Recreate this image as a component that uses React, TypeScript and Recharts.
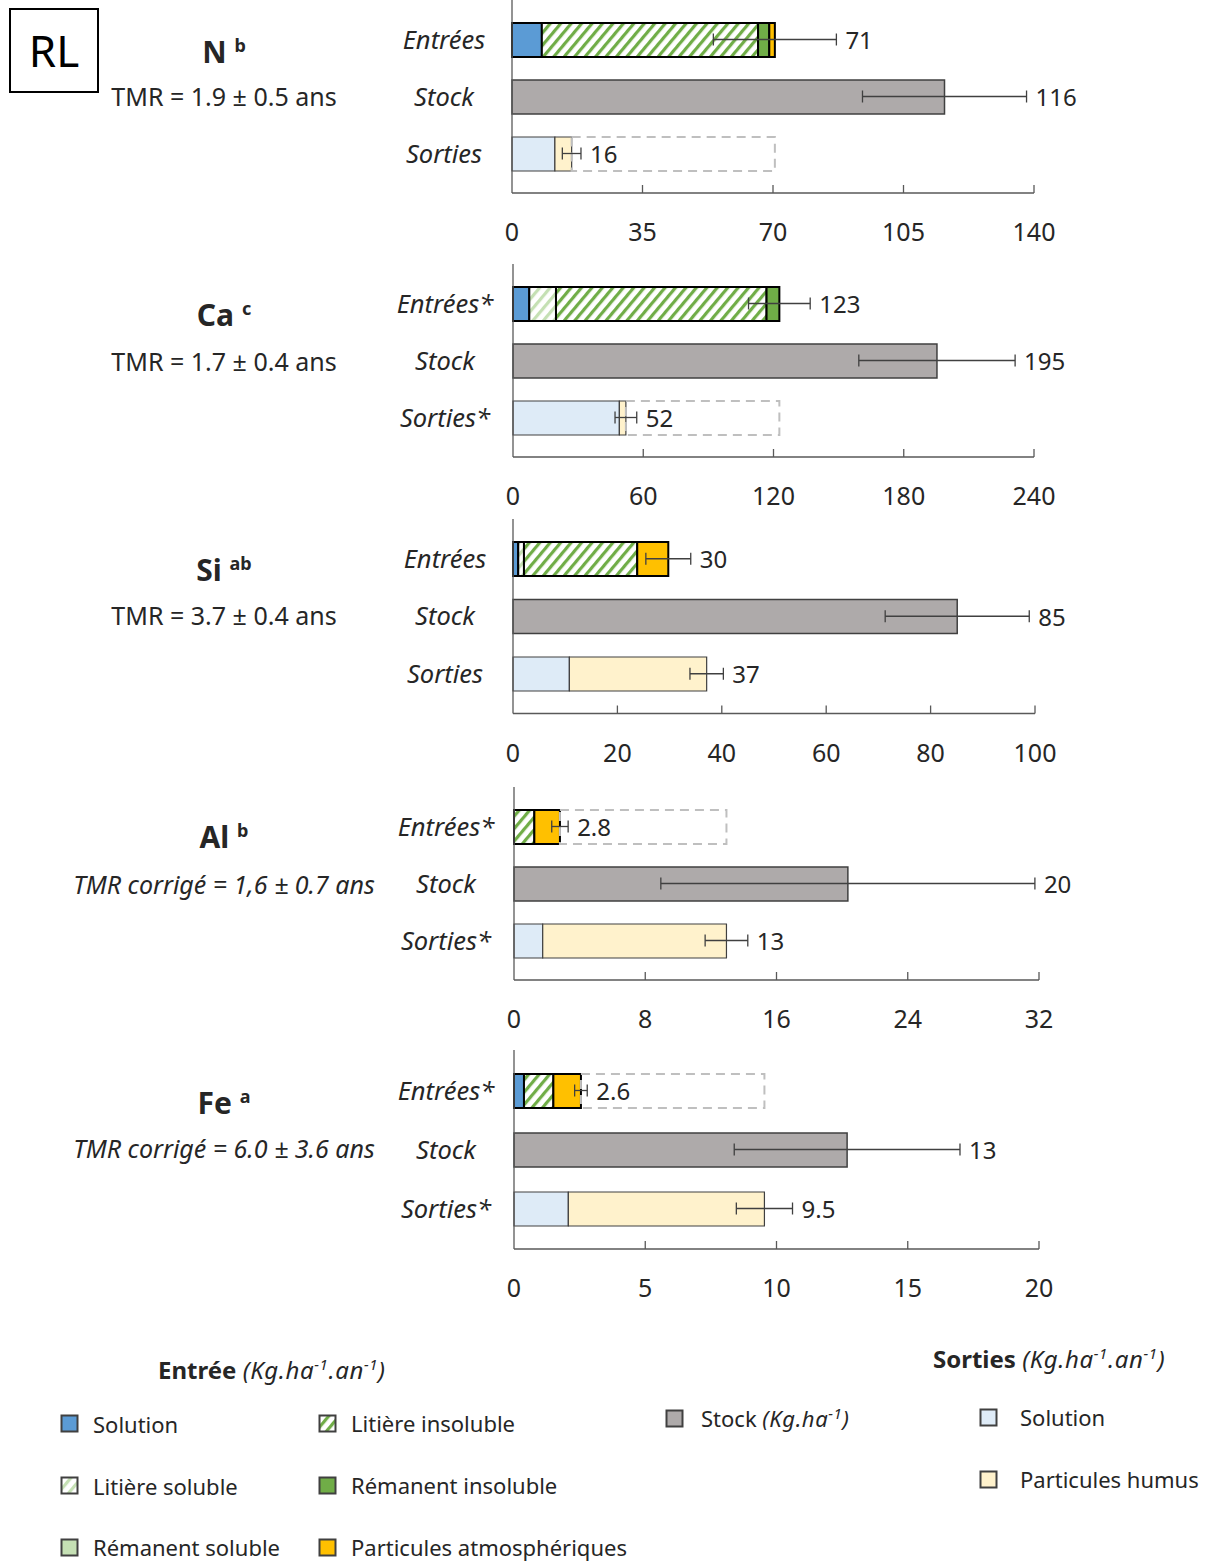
import React from 'react';
import { ComposedChart, Bar, Scatter, XAxis, YAxis, ErrorBar } from 'recharts';

// element panels, top to bottom
const elements = ['N', 'Ca', 'Si', 'Al', 'Fe'];
const elementSup = ['b', 'c', 'ab', 'b', 'a'];
const tmrTexts = [
  'TMR = 1.9 ± 0.5 ans',
  'TMR = 1.7 ± 0.4 ans',
  'TMR = 3.7 ± 0.4 ans',
  'TMR corrigé = 1,6 ± 0.7 ans',
  'TMR corrigé = 6.0 ± 3.6 ans',
];
const tmrItalic = [false, false, false, true, true];
const catLabels = [
  ['Entrées', 'Stock', 'Sorties'],
  ['Entrées*', 'Stock', 'Sorties*'],
  ['Entrées', 'Stock', 'Sorties'],
  ['Entrées*', 'Stock', 'Sorties*'],
  ['Entrées*', 'Stock', 'Sorties*'],
];

const axisMax = [140, 240, 100, 32, 20];
const axisTicks = [
  [0, 35, 70, 105, 140],
  [0, 60, 120, 180, 240],
  [0, 20, 40, 60, 80, 100],
  [0, 8, 16, 24, 32],
  [0, 5, 10, 15, 20],
];

// Entrées (kg/ha/an)
const entSolution = [8.0, 7.5, 1.0, 0, 0.38];
const entLitSoluble = [0, 12.3, 1.1, 0, 0];
const entLitInsoluble = [58, 97, 21.7, 1.24, 1.12];
const entRemSoluble = [0, 0, 0, 0, 0];
const entRemInsoluble = [3.0, 5.9, 0, 0, 0];
const entParticules = [1.5, 0, 5.95, 1.56, 1.05];
const entErr = [16.5, 14.2, 4.3, 0.5, 0.24];
const entLabel = ['71', '123', '30', '2.8', '2.6'];

// Stock (kg/ha)
const stockVal = [116, 195.3, 85.1, 20.35, 12.69];
const stockErr = [22, 36, 13.8, 11.4, 4.3];
const stockLabel = ['116', '195', '85', '20', '13'];

// Sorties (kg/ha/an)
const sorSolution = [11.5, 49, 10.8, 1.75, 2.07];
const sorHumus = [4.5, 3, 26.3, 11.2, 7.47];
const sorErr = [2.5, 5, 3.2, 1.3, 1.07];
const sorLabel = ['16', '52', '37', '13', '9.5'];

// row that gets a dashed outline up to the other flux total
const dashedRow = ['Sorties', 'Sorties', '', 'Entrées', 'Entrées'];

// layout of each panel (plot left/right, x-axis y, band height)
const panelGeom = [
  { left: 512, right: 1034, axisY: 193, band: 57 },
  { left: 513, right: 1034, axisY: 457, band: 57 },
  { left: 513, right: 1035, axisY: 713, band: 57.5 },
  { left: 514, right: 1039, axisY: 980, band: 57 },
  { left: 514, right: 1039, axisY: 1249, band: 59 },
];
const titleY = [45, 308, 563, 830, 1096];
const tmrY = [96, 361, 615, 884, 1148];

const FONT = '"Noto Sans", "Open Sans", sans-serif';
const TXT = '#262626';
const AX = '#595959';

const sum = (a: number[]) => a.reduce((s, v) => s + v, 0);

const buildRows = (i: number) => {
  const entTotal = sum([entSolution[i], entLitSoluble[i], entLitInsoluble[i], entRemSoluble[i], entRemInsoluble[i], entParticules[i]]);
  const sorTotal = sorSolution[i] + sorHumus[i];
  const blank = { solE: 0, litSol: 0, litIns: 0, remSol: 0, remIns: 0, partAtm: 0, stock: 0, solS: 0, humus: 0, gap: 0 };
  return [
    {
      ...blank, cat: catLabels[i][0],
      solE: entSolution[i], litSol: entLitSoluble[i], litIns: entLitInsoluble[i],
      remSol: entRemSoluble[i], remIns: entRemInsoluble[i], partAtm: entParticules[i],
      gap: dashedRow[i] === 'Entrées' ? Math.max(0, sorTotal - entTotal) : 0,
      total: entTotal, err: entErr[i], label: entLabel[i],
    },
    { ...blank, cat: catLabels[i][1], stock: stockVal[i], total: stockVal[i], err: stockErr[i], label: stockLabel[i] },
    {
      ...blank, cat: catLabels[i][2], solS: sorSolution[i], humus: sorHumus[i],
      gap: dashedRow[i] === 'Sorties' ? Math.max(0, entTotal - sorTotal) : 0,
      total: sorTotal, err: sorErr[i], label: sorLabel[i],
    },
  ];
};

const XTick = (props: any) => {
  const { x, y, payload } = props;
  return (
    <g>
      {payload.value !== 0 && <line x1={x} x2={x} y1={y - 8} y2={y} stroke={AX} strokeWidth={1.3} />}
      <text x={x} y={y + 38} textAnchor="middle" dominantBaseline="central" fontSize={25} fontFamily={FONT} fill={TXT}>
        {payload.value}
      </text>
    </g>
  );
};

const YTick = (props: any) => {
  const { x, y, payload } = props;
  return (
    <text x={x - 68} y={y - 1} textAnchor="middle" dominantBaseline="central" fontSize={25.5} fontStyle="italic" fontFamily={FONT} fill={TXT}>
      {payload.value}
    </text>
  );
};

const Panel = ({ i }: { i: number }) => {
  const g = panelGeom[i];
  const rows = buildRows(i);
  const plotH = g.band * 3 + 22;
  const chartLeft = 380;
  const rightM = 75;
  const width = g.right + rightM - chartLeft;
  const height = plotH + 62;
  const pxPerUnit = (g.right - g.left) / axisMax[i];

  // value label sitting just past the error bar end
  const ValueLabel = (props: any) => {
    const { cx, cy, payload } = props;
    if (cx == null || !payload) return null;
    return (
      <text x={cx + payload.err * pxPerUnit + 9} y={cy} dominantBaseline="central" fontSize={24} fontFamily={FONT} fill={TXT}>
        {payload.label}
      </text>
    );
  };

  const entStroke = { stroke: '#000', strokeWidth: 2 };
  return (
    <div style={{ position: 'absolute', left: chartLeft, top: g.axisY - plotH }}>
      <ComposedChart layout="vertical" width={width} height={height} data={rows} barSize={34}
        margin={{ top: 0, right: rightM, left: 0, bottom: 0 }}>
        <XAxis type="number" domain={[0, axisMax[i]]} ticks={axisTicks[i]} height={62}
          axisLine={{ stroke: AX, strokeWidth: 1.3 }} tickLine={false} tickSize={0} tickMargin={0}
          tick={<XTick />} interval={0} />
        <YAxis type="category" dataKey="cat" width={g.left - chartLeft} padding={{ top: 11, bottom: 11 }}
          axisLine={{ stroke: AX, strokeWidth: 1.3 }} tickLine={false} tickSize={0} tickMargin={0}
          tick={<YTick />} interval={0} />
        <Bar dataKey="solE" stackId="a" fill="#5B9BD5" {...entStroke} isAnimationActive={false} />
        <Bar dataKey="litSol" stackId="a" fill="url(#hatchLight)" {...entStroke} isAnimationActive={false} />
        <Bar dataKey="litIns" stackId="a" fill="url(#hatchGreen)" {...entStroke} isAnimationActive={false} />
        <Bar dataKey="remSol" stackId="a" fill="#C5E0B4" {...entStroke} isAnimationActive={false} />
        <Bar dataKey="remIns" stackId="a" fill="#70AD47" {...entStroke} isAnimationActive={false} />
        <Bar dataKey="partAtm" stackId="a" fill="#FFC000" {...entStroke} isAnimationActive={false} />
        <Bar dataKey="stock" stackId="a" fill="#AEAAAA" stroke="#404040" strokeWidth={1.5} isAnimationActive={false} />
        <Bar dataKey="solS" stackId="a" fill="#DEEBF7" stroke="#404040" strokeWidth={1.2} isAnimationActive={false} />
        <Bar dataKey="humus" stackId="a" fill="#FFF2CC" stroke="#404040" strokeWidth={1.2} isAnimationActive={false} />
        <Bar dataKey="gap" stackId="a" fill="transparent" stroke="#BFBFBF" strokeWidth={2} strokeDasharray="9 6" isAnimationActive={false} />
        <Scatter dataKey="total" shape={<ValueLabel />} isAnimationActive={false}>
          <ErrorBar dataKey="err" direction="x" width={6} stroke="#404040" strokeWidth={1.3} />
        </Scatter>
      </ComposedChart>
    </div>
  );
};

const Swatch = ({ fill, left, cy }: { fill: string; left: number; cy: number }) => (
  <svg style={{ position: 'absolute', left, top: cy - 10 }} width={20} height={20}>
    <rect x={1.5} y={1.5} width={16} height={16} fill={fill} stroke="#404040" strokeWidth={2} />
  </svg>
);

const LegendText = ({ left, cy, size = 22, children }: { left: number; cy: number; size?: number; children: React.ReactNode }) => (
  <div style={{ position: 'absolute', left, top: cy - 13, height: 26, lineHeight: '26px', fontSize: size, color: TXT, whiteSpace: 'nowrap' }}>
    {children}
  </div>
);

const sup = { fontSize: 15, verticalAlign: 'super', lineHeight: 0 } as const;
const unit = (
  <i style={{ letterSpacing: 0.6 }}>(Kg.ha<span style={sup}>-1</span>.an<span style={sup}>-1</span>)</i>
);

export default function App() {
  return (
    <div style={{ position: 'absolute', left: 0, top: 0, width: 1208, height: 1561, background: '#fff', fontFamily: FONT, color: TXT, overflow: 'hidden' }}>
      <svg width={0} height={0} style={{ position: 'absolute' }}>
        <defs>
          <pattern id="hatchGreen" patternUnits="userSpaceOnUse" width={8} height={8} patternTransform="rotate(40)">
            <rect width={8} height={8} fill="#fff" />
            <rect x={0} y={0} width={3.2} height={8} fill="#70AD47" />
          </pattern>
          <pattern id="hatchLight" patternUnits="userSpaceOnUse" width={8} height={8} patternTransform="rotate(40)">
            <rect width={8} height={8} fill="#fff" />
            <rect x={0} y={0} width={3.2} height={8} fill="#C5E0B4" />
          </pattern>
        </defs>
      </svg>

      <div style={{ position: 'absolute', left: 9, top: 8, width: 86, height: 81, border: '2px solid #000', textAlign: 'center', lineHeight: '81px', fontSize: 44, color: '#000' }}>
        RL
      </div>

      {elements.map((el, i) => (
        <React.Fragment key={el}>
          <div style={{ position: 'absolute', left: 24, width: 400, top: titleY[i] - 22, height: 44, lineHeight: '44px', textAlign: 'center', fontSize: 30, fontWeight: 700 }}>
            {el} <sup style={{ fontSize: 18 }}>{elementSup[i]}</sup>
          </div>
          <div style={{ position: 'absolute', left: 24, width: 400, top: tmrY[i] - 17, height: 34, lineHeight: '34px', textAlign: 'center', fontSize: 25, fontStyle: tmrItalic[i] ? 'italic' : 'normal' }}>
            {tmrTexts[i]}
          </div>
          <Panel i={i} />
        </React.Fragment>
      ))}

      {/* legend */}
      <LegendText left={158} cy={1370} size={24}><b>Entrée</b> {unit}</LegendText>
      <Swatch fill="#5B9BD5" left={60} cy={1424} />
      <LegendText left={93} cy={1424}>Solution</LegendText>
      <Swatch fill="url(#hatchLight)" left={60} cy={1486} />
      <LegendText left={93} cy={1486}>Litière soluble</LegendText>
      <Swatch fill="#C5E0B4" left={60} cy={1548} />
      <LegendText left={93} cy={1547}>Rémanent soluble</LegendText>
      <Swatch fill="url(#hatchGreen)" left={318} cy={1424} />
      <LegendText left={351} cy={1423}>Litière insoluble</LegendText>
      <Swatch fill="#70AD47" left={318} cy={1486} />
      <LegendText left={351} cy={1485}>Rémanent insoluble</LegendText>
      <Swatch fill="#FFC000" left={318} cy={1548} />
      <LegendText left={351} cy={1547}>Particules atmosphériques</LegendText>

      <Swatch fill="#AEAAAA" left={665} cy={1419} />
      <LegendText left={701} cy={1418}>Stock <i style={{ letterSpacing: 0.6 }}>(Kg.ha<span style={sup}>-1</span>)</i></LegendText>

      <LegendText left={933} cy={1359} size={24}><b>Sorties</b> {unit}</LegendText>
      <Swatch fill="#DEEBF7" left={979} cy={1418} />
      <LegendText left={1020} cy={1417}>Solution</LegendText>
      <Swatch fill="#FFF2CC" left={979} cy={1480} />
      <LegendText left={1020} cy={1479}>Particules humus</LegendText>
    </div>
  );
}
